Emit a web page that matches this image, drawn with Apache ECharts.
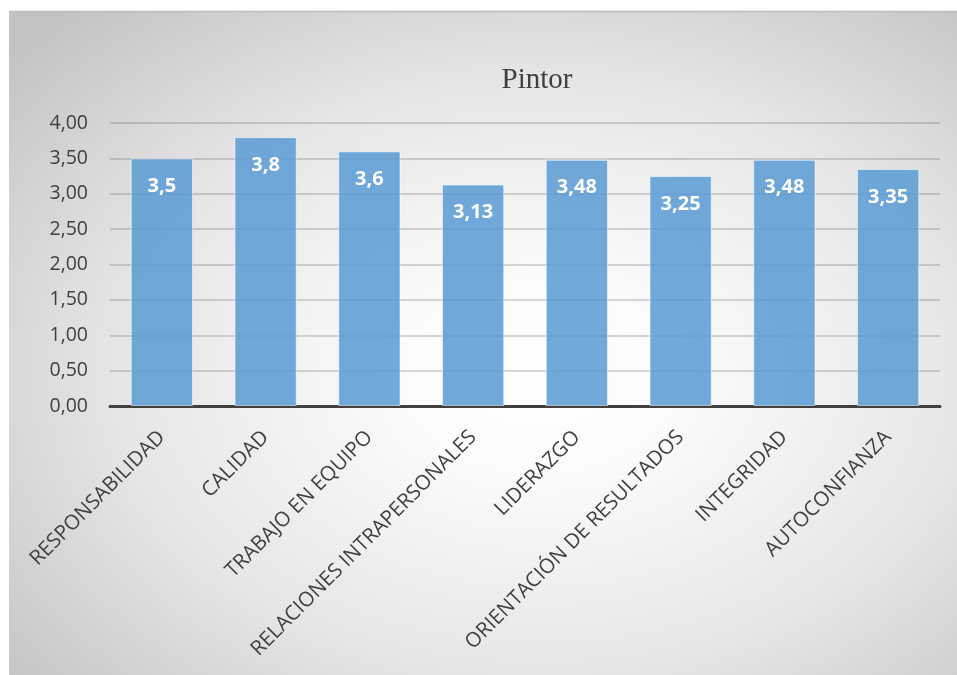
<!DOCTYPE html>
<html>
<head>
<meta charset="utf-8">
<script src="https://cdn.jsdelivr.net/npm/echarts@6/dist/echarts.min.js"></script>
<style>
  html, body { margin: 0; padding: 0; background: #ffffff; }
  #chart { width: 957px; height: 675px; }
</style>
</head>
<body>
<div id="chart"></div>
<script>
// Competency scores for the "Pintor" role
const categories = [
  'RESPONSABILIDAD',
  'CALIDAD',
  'TRABAJO EN EQUIPO',
  'RELACIONES INTRAPERSONALES',
  'LIDERAZGO',
  'ORIENTACIÓN DE RESULTADOS',
  'INTEGRIDAD',
  'AUTOCONFIANZA'
];
const scores = [3.5, 3.8, 3.6, 3.13, 3.48, 3.25, 3.48, 3.35];
const yTicks = { min: 0, max: 4, interval: 0.5 };

const toComma = (v, digits) =>
  (digits == null ? String(v) : v.toFixed(digits)).replace('.', ',');

const chart = echarts.init(document.getElementById('chart'), null, { renderer: 'canvas' });

// Frame geometry for the soft gray backdrop
const frame = { x: 9, y: 11, w: 948, h: 664 };
const side = frame.h;

chart.setOption({
  animation: false,
  backgroundColor: 'transparent',
  graphic: [
    {
      type: 'rect',
      z: -10,
      silent: true,
      x: frame.x,
      y: frame.y,
      scaleX: frame.w / side,
      shape: { x: 0, y: 0, width: side, height: side },
      style: {
        fill: {
          type: 'radial', x: 0.56, y: 0.55, r: 0.74,
          colorStops: [
            { offset: 0, color: '#ffffff' },
            { offset: 0.2, color: '#fbfbfb' },
            { offset: 0.6, color: '#e6e6e6' },
            { offset: 1, color: '#c3c3c3' }
          ]
        }
      }
    },
    {
      type: 'line',
      z: -9,
      silent: true,
      shape: { x1: frame.x, y1: frame.y + 0.5, x2: frame.x + frame.w, y2: frame.y + 0.5 },
      style: { stroke: '#bdbdbd', lineWidth: 1.5 }
    }
  ],
  title: {
    text: 'Pintor',
    left: 532,
    top: 61,
    textAlign: 'center',
    textStyle: {
      fontFamily: '"Liberation Serif", "DejaVu Serif", serif',
      fontWeight: 'normal',
      fontSize: 29,
      color: '#404040'
    }
  },
  grid: {
    left: 110,
    right: 17,
    top: 123,
    bottom: 269,
    containLabel: false
  },
  xAxis: {
    type: 'category',
    data: categories,
    axisTick: { show: false },
    axisLine: { show: true, lineStyle: { color: '#404040', width: 3 } },
    axisLabel: {
      rotate: 45,
      interval: 0,
      margin: 28,
      fontFamily: '"Open Sans", sans-serif',
      fontSize: 20.5,
      color: '#404040'
    }
  },
  yAxis: {
    type: 'value',
    min: yTicks.min,
    max: yTicks.max,
    interval: yTicks.interval,
    axisLine: { show: false },
    axisTick: { show: false },
    splitLine: { lineStyle: { color: 'rgba(90,90,90,0.32)', width: 1.5 } },
    axisLabel: {
      margin: 22,
      fontFamily: '"Open Sans", sans-serif',
      fontSize: 19.5,
      color: '#404040',
      formatter: v => toComma(v, 2)
    }
  },
  series: [
    {
      type: 'bar',
      data: scores,
      barCategoryGap: '40%',
      itemStyle: {
        color: 'rgba(91,155,213,0.86)',
        borderColor: 'rgba(255,255,255,0.55)',
        borderWidth: 1
      },
      label: {
        show: true,
        position: 'insideTop',
        distance: 18,
        fontFamily: '"Open Sans", sans-serif',
        fontWeight: 'bold',
        fontSize: 20,
        color: '#ffffff',
        formatter: p => toComma(p.value)
      }
    }
  ]
});
</script>
</body>
</html>
